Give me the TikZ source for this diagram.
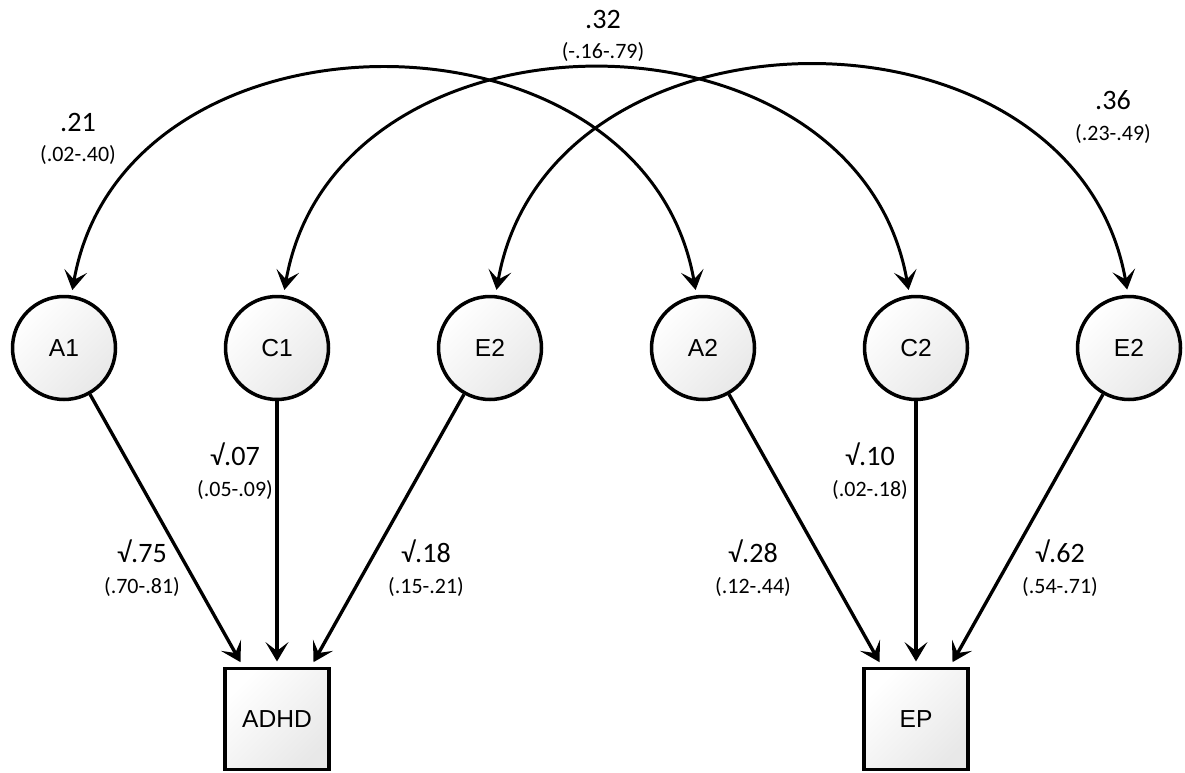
\documentclass[tikz,border=0pt]{standalone}
\usepackage{fontspec}
\setmainfont{Carlito}
\newfontfamily\boxfont{Liberation Sans}
\usetikzlibrary{arrows.meta}

\newcommand{\ci}[2]{{\fontsize{16}{17}\selectfont #1}\\{\fontsize{12.5}{17}\selectfont #2}}

\begin{document}
\begin{tikzpicture}[x=0.02cm, y=0.02cm,
        latent/.style={circle, draw, line width=2pt, minimum size=2.06cm, inner sep=0pt,
            top color=white, bottom color=black!9, shading angle=45,
            font=\boxfont\fontsize{14}{16}\selectfont},
        observed/.style={rectangle, draw, line width=2pt, minimum width=2.08cm, minimum height=2.02cm,
            inner sep=0pt, top color=white, bottom color=black!9, shading angle=45,
            font=\boxfont\fontsize{14}{16}\selectfont},
        loading/.style={-{Stealth[length=11pt, width=13pt, inset=5pt]}, line width=1.9pt, shorten >=3pt},
        corr/.style={{Stealth[length=11pt, width=13pt, inset=5pt]}-{Stealth[length=11pt, width=13pt, inset=5pt]},
            line width=1.7pt, shorten <=3pt, shorten >=3pt},
        est/.style={align=center, inner sep=0pt, font=\fontsize{12.5}{17.5}\selectfont}]
    \useasboundingbox (0,0) rectangle (1185,-773);

    % latent factors
    \node[latent] (A1) at (64,-348) {A1};
    \node[latent] (C1) at (277,-348) {C1};
    \node[latent] (E1) at (490,-348) {E2};
    \node[latent] (A2) at (703,-348) {A2};
    \node[latent] (C2) at (916,-348) {C2};
    \node[latent] (E2) at (1129,-348) {E2};

    % observed
    \node[observed] (ADHD) at (277,-719) {ADHD};
    \node[observed] (EP) at (916,-719) {EP};

    \draw[loading] (A1) -- (ADHD.123);
    \draw[loading] (C1) -- (ADHD);
    \draw[loading] (E1) -- (ADHD.57);
    \draw[loading] (A2) -- (EP.123);
    \draw[loading] (C2) -- (EP);
    \draw[loading] (E2) -- (EP.57);

    % correlations
    \draw[corr] (A1.82) to[out=80, in=100, looseness=1.25] (A2.97);
    \draw[corr] (C1.83) to[out=80, in=100, looseness=1.25] (C2.97);
    \draw[corr] (E1.84) to[out=80, in=100, looseness=1.25] (E2.91);

    \node[est] (rA) at (78,-139) {\ci{.21}{(.02-.40)}};
    \node[est] (rC) at (603,-36) {\ci{.32}{(-.16-.79)}};
    \node[est] (rE) at (1113,-117) {\ci{.36}{(.23-.49)}};

    \node[est] (lA1) at (142,-568) {\ci{√.75}{(.70-.81)}};
    \node[est] (lC1) at (235,-471) {\ci{√.07}{(.05-.09)}};
    \node[est] (lE1) at (426,-568) {\ci{√.18}{(.15-.21)}};
    \node[est] (lA2) at (753,-568) {\ci{√.28}{(.12-.44)}};
    \node[est] (lC2) at (870,-471) {\ci{√.10}{(.02-.18)}};
    \node[est] (lE2) at (1060,-568) {\ci{√.62}{(.54-.71)}};
\end{tikzpicture}
\end{document}
